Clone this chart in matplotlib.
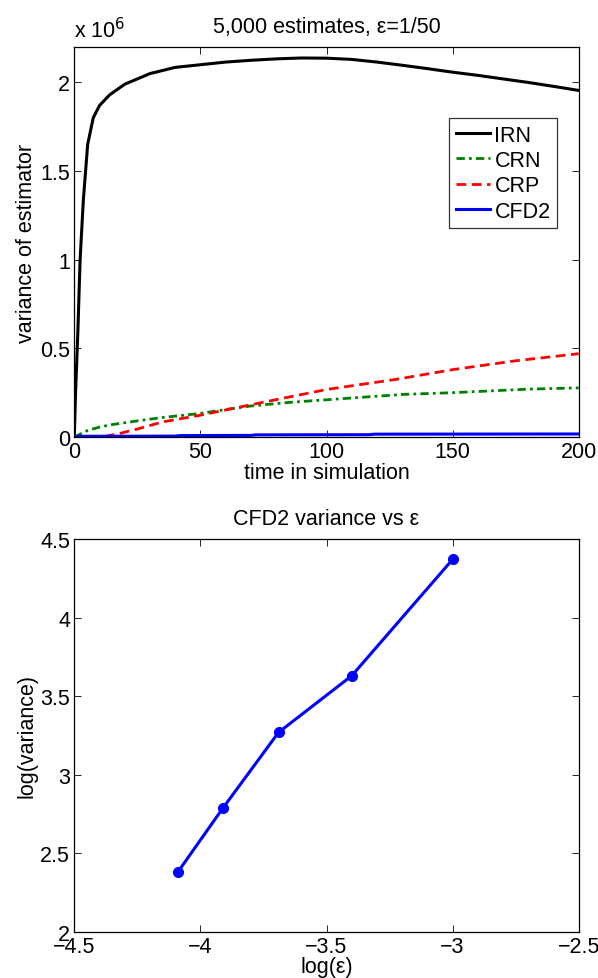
import numpy as np
import matplotlib
matplotlib.use("Agg")
import matplotlib.pyplot as plt
from matplotlib.ticker import FuncFormatter

plt.rcParams['font.family'] = ['Liberation Sans', 'DejaVu Sans']
plt.rcParams['font.size'] = 15.5
FS = 15.5

# top panel: variance of estimator over time (values in units of 1e6)
irn_t = [0, 0.5, 1.4, 2.3, 3.6, 5.3, 7.5, 10, 14, 20, 30, 40, 50, 60, 70, 80, 90,
         100, 110, 120, 130, 140, 150, 160, 170, 180, 190, 200]
irn_v = [0, 0.25, 0.59, 1.0, 1.34, 1.65, 1.80, 1.87, 1.93, 1.99, 2.05, 2.085, 2.10,
         2.115, 2.125, 2.133, 2.138, 2.137, 2.13, 2.115, 2.097, 2.078, 2.058, 2.04,
         2.02, 2.0, 1.978, 1.955]
crn_t = [0, 5, 10, 15, 25, 35, 50, 60, 70, 85, 100, 115, 130, 150, 165, 180, 200]
crn_v = [0, 0.035, 0.056, 0.07, 0.091, 0.11, 0.133, 0.155, 0.175, 0.195, 0.21,
         0.225, 0.24, 0.25, 0.26, 0.27, 0.277]
crp_t = [0, 8, 12, 17.5, 25, 35, 50, 68, 85, 100, 128, 150, 175, 200]
crp_v = [0, 0, 0.003, 0.018, 0.045, 0.085, 0.123, 0.176, 0.225, 0.268, 0.326,
         0.38, 0.43, 0.47]
cfd_t = [0, 2, 40, 42, 70, 72, 117, 119, 200]
cfd_v = [0, 0.004, 0.005, 0.008, 0.009, 0.012, 0.013, 0.016, 0.017]

# bottom panel: log variance vs log epsilon
log_eps = [-4.09, -3.91, -3.69, -3.40, -3.00]
log_var = [2.38, 2.79, 3.27, 3.63, 4.37]

W, H = 598, 979
fig = plt.figure(figsize=(W / 100, H / 100), dpi=100)


def style(ax):
    ax.tick_params(direction='in', top=True, right=True, length=5, width=0.6,
                   labelsize=FS, pad=3)
    for s in ax.spines.values():
        s.set_linewidth(0.9)


ax1 = fig.add_axes([74.3 / W, (H - 438) / H, 504.4 / W, 390 / H])
ax1.plot(irn_t, np.array(irn_v) * 1e6, color='black', lw=2.2, label='IRN')
ax1.plot(crn_t, np.array(crn_v) * 1e6, color=(0, 0.5, 0), lw=2,
         dashes=(3, 1.5, 1, 1.5), label='CRN')
ax1.plot(crp_t, np.array(crp_v) * 1e6, color='red', lw=2, dashes=(3.5, 2),
         label='CRP')
ax1.plot(cfd_t, np.array(cfd_v) * 1e6, color='blue', lw=2.2, label='CFD2')
ax1.set_xlim(0, 200)
ax1.set_ylim(0, 2.2e6)
ax1.set_xticks([0, 50, 100, 150, 200])
ax1.set_yticks([0, 0.5e6, 1e6, 1.5e6, 2e6])
ax1.yaxis.set_major_formatter(FuncFormatter(lambda v, p: f'{v / 1e6:g}'))
style(ax1)
ax1.set_xlabel('time in simulation', labelpad=0)
ax1.set_ylabel('variance of estimator', labelpad=2)
ax1.set_title('5,000 estimates, ε=1/50', fontsize=FS, pad=11)
ax1.text(0, 1.012, r'x 10$^6$', transform=ax1.transAxes, fontsize=FS,
         ha='left', va='bottom')
leg = ax1.legend(loc='lower right', bbox_to_anchor=(0.957, 0.536), fontsize=FS,
                 frameon=True, fancybox=False, edgecolor='black',
                 handlelength=1.6, handletextpad=0.2, borderpad=0.3,
                 labelspacing=0.2, borderaxespad=0)
leg.get_frame().set_linewidth(0.9)

ax2 = fig.add_axes([74.3 / W, (H - 933) / H, 504.4 / W, 393 / H])
ax2.plot(log_eps, log_var, color='blue', lw=2.2, marker='o', markersize=7)
ax2.set_xlim(-4.5, -2.5)
ax2.set_ylim(2, 4.5)
ax2.set_xticks([-4.5, -4, -3.5, -3, -2.5])
ax2.set_yticks([2, 2.5, 3, 3.5, 4, 4.5])
ax2.yaxis.set_major_formatter(FuncFormatter(lambda v, p: f'{v:g}'))
ax2.xaxis.set_major_formatter(FuncFormatter(lambda v, p: f'{v:g}'.replace('-', '\u2212')))
style(ax2)
ax2.set_xlabel('log(ε)', labelpad=-1)
ax2.set_ylabel('log(variance)', labelpad=2)
ax2.set_title('CFD2 variance vs ε', fontsize=FS, pad=11)

fig.savefig('out.png', dpi=100)
